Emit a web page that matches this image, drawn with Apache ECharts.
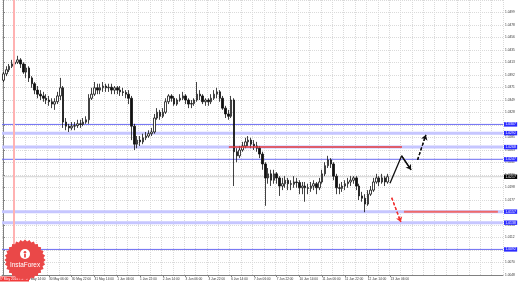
<!DOCTYPE html>
<html><head><meta charset="utf-8">
<script src="https://cdn.jsdelivr.net/npm/echarts@6/dist/echarts.min.js"></script>
<style>html,body{margin:0;padding:0;background:#fff}#c{width:518px;height:285px}</style>
</head><body><div id="c"></div>
<script>
// ---- data ----
const tickLabels = ["29 May 14:00","30 May 06:00","30 May 22:00","31 May 14:00","1 Jun 06:00","1 Jun 22:00","2 Jun 14:00","3 Jun 06:00","3 Jun 22:00","6 Jun 14:00","7 Jun 06:00","7 Jun 22:00","10 Jun 14:00","11 Jun 06:00","11 Jun 22:00","12 Jun 14:00","13 Jun 06:00"];
const labelStep = 8;
const categoryCount = 176;
const categories = Array.from({length: categoryCount}, (_, i) => 'b' + i);
// [open, close, low, high]
const candles = [
[1.0383,1.0394,1.0380,1.0397],[1.0394,1.0401,1.0390,1.0407],[1.0401,1.0407,1.0397,1.0411],[1.0407,1.0411,1.0404,1.0418],
[1.0411,1.0414,1.0407,1.0421],[1.0414,1.0418,1.0411,1.0425],[1.0418,1.0411,1.0404,1.0421],[1.0411,1.0397,1.0394,1.0414],
[1.0397,1.0404,1.0387,1.0411],[1.0404,1.0387,1.0380,1.0407],[1.0387,1.0377,1.0370,1.0390],[1.0377,1.0366,1.0359,1.0380],
[1.0366,1.0359,1.0352,1.0373],[1.0359,1.0356,1.0349,1.0366],[1.0356,1.0352,1.0346,1.0363],[1.0352,1.0349,1.0342,1.0359],
[1.0349,1.0346,1.0339,1.0356],[1.0346,1.0342,1.0335,1.0352],[1.0342,1.0346,1.0332,1.0352],[1.0346,1.0356,1.0342,1.0363],
[1.0356,1.0370,1.0349,1.0387],[1.0370,1.0311,1.0301,1.0373],[1.0311,1.0304,1.0297,1.0318],[1.0304,1.0301,1.0294,1.0308],
[1.0301,1.0304,1.0297,1.0311],[1.0304,1.0305,1.0297,1.0311],[1.0305,1.0308,1.0301,1.0315],[1.0308,1.0307,1.0301,1.0315],
[1.0307,1.0311,1.0304,1.0318],[1.0311,1.0315,1.0308,1.0321],[1.0315,1.0352,1.0308,1.0359],[1.0352,1.0359,1.0349,1.0370],
[1.0359,1.0370,1.0356,1.0380],[1.0370,1.0366,1.0359,1.0377],[1.0366,1.0370,1.0359,1.0377],[1.0370,1.0373,1.0363,1.0380],
[1.0373,1.0370,1.0363,1.0377],[1.0370,1.0371,1.0363,1.0377],[1.0371,1.0366,1.0359,1.0377],[1.0366,1.0370,1.0359,1.0373],
[1.0370,1.0366,1.0359,1.0373],[1.0366,1.0363,1.0356,1.0373],[1.0363,1.0362,1.0356,1.0370],[1.0362,1.0359,1.0352,1.0366],
[1.0359,1.0352,1.0342,1.0366],[1.0352,1.0304,1.0280,1.0356],[1.0304,1.0273,1.0263,1.0308],[1.0273,1.0280,1.0266,1.0287],
[1.0280,1.0277,1.0270,1.0287],[1.0277,1.0284,1.0273,1.0291],[1.0284,1.0287,1.0280,1.0294],[1.0287,1.0291,1.0284,1.0297],
[1.0291,1.0294,1.0287,1.0301],[1.0294,1.0318,1.0291,1.0325],[1.0318,1.0328,1.0315,1.0335],[1.0328,1.0321,1.0315,1.0332],
[1.0321,1.0328,1.0318,1.0335],[1.0328,1.0346,1.0325,1.0352],[1.0346,1.0356,1.0342,1.0359],[1.0356,1.0352,1.0346,1.0359],
[1.0352,1.0342,1.0339,1.0356],[1.0342,1.0349,1.0339,1.0352],[1.0349,1.0352,1.0346,1.0359],[1.0352,1.0356,1.0349,1.0363],
[1.0356,1.0349,1.0342,1.0359],[1.0349,1.0342,1.0335,1.0352],[1.0342,1.0343,1.0335,1.0349],[1.0343,1.0349,1.0339,1.0352],
[1.0349,1.0359,1.0346,1.0380],[1.0359,1.0356,1.0349,1.0366],[1.0356,1.0346,1.0342,1.0359],[1.0346,1.0349,1.0339,1.0352],
[1.0349,1.0346,1.0339,1.0352],[1.0346,1.0352,1.0342,1.0359],[1.0352,1.0359,1.0349,1.0366],[1.0359,1.0363,1.0352,1.0370],
[1.0363,1.0352,1.0346,1.0366],[1.0352,1.0335,1.0332,1.0356],[1.0335,1.0325,1.0318,1.0339],[1.0325,1.0321,1.0315,1.0332],
[1.0321,1.0349,1.0318,1.0356],[1.0349,1.0260,1.0201,1.0352],[1.0260,1.0253,1.0242,1.0266],[1.0253,1.0263,1.0249,1.0270],
[1.0263,1.0270,1.0260,1.0277],[1.0270,1.0277,1.0266,1.0284],[1.0277,1.0280,1.0270,1.0287],[1.0280,1.0273,1.0266,1.0284],
[1.0273,1.0270,1.0263,1.0280],[1.0270,1.0266,1.0260,1.0277],[1.0266,1.0256,1.0249,1.0270],[1.0256,1.0239,1.0229,1.0260],
[1.0239,1.0215,1.0167,1.0242],[1.0215,1.0222,1.0205,1.0232],[1.0222,1.0211,1.0201,1.0229],[1.0211,1.0222,1.0205,1.0229],
[1.0222,1.0215,1.0205,1.0225],[1.0215,1.0201,1.0184,1.0218],[1.0201,1.0205,1.0194,1.0215],[1.0205,1.0211,1.0198,1.0218],
[1.0211,1.0205,1.0194,1.0215],[1.0205,1.0204,1.0194,1.0211],[1.0204,1.0208,1.0198,1.0218],[1.0208,1.0207,1.0198,1.0215],
[1.0207,1.0198,1.0187,1.0211],[1.0198,1.0201,1.0187,1.0208],[1.0201,1.0198,1.0174,1.0208],[1.0198,1.0197,1.0187,1.0205],
[1.0197,1.0201,1.0191,1.0208],[1.0201,1.0205,1.0194,1.0211],[1.0205,1.0198,1.0187,1.0208],[1.0198,1.0208,1.0194,1.0215],
[1.0208,1.0222,1.0205,1.0229],[1.0222,1.0236,1.0218,1.0242],[1.0236,1.0246,1.0232,1.0253],[1.0246,1.0239,1.0232,1.0249],
[1.0239,1.0218,1.0211,1.0242],[1.0218,1.0198,1.0187,1.0222],[1.0198,1.0197,1.0187,1.0205],[1.0197,1.0201,1.0191,1.0208],
[1.0201,1.0205,1.0194,1.0211],[1.0205,1.0208,1.0198,1.0215],[1.0208,1.0211,1.0201,1.0218],[1.0211,1.0215,1.0205,1.0218],
[1.0215,1.0201,1.0194,1.0218],[1.0201,1.0184,1.0177,1.0205],[1.0184,1.0180,1.0174,1.0191],[1.0180,1.0170,1.0156,1.0187],
[1.0170,1.0187,1.0167,1.0194],[1.0187,1.0194,1.0184,1.0201],[1.0194,1.0208,1.0191,1.0215],[1.0208,1.0215,1.0205,1.0222],
[1.0215,1.0208,1.0201,1.0218],[1.0208,1.0215,1.0205,1.0222],[1.0215,1.0208,1.0201,1.0218],[1.0208,1.0217,1.0205,1.0222]
];
const levelsThin = [1.0307, 1.0247, 1.0092];
const levelsThick = [1.0292, 1.0268, 1.0157, 1.0138];
const currentPrice = 1.0217;
const resistanceSeg = [[79.2, 1.0268], [140.0, 1.0268]];
const supportSeg = [[140.7, 1.0157], [173.7, 1.0157]];
const upPathSolid = [[135.8, 1.0206], [139.9, 1.0253], [143.2, 1.0229]];
const upPathDashed = [[145.5, 1.0246], [148.4, 1.0289]];
const downPathDashed = [[136.4, 1.0181], [139.6, 1.0139]];
const separatorIndex = 3.5;
const separatorLabel = '27 May 2016 04:00';
const yMin = 1.0048, yStep = 0.00215, yMax = 1.0521;

// ---- chart ----
const FONT = 'Liberation Sans';
const xLo = -0.5, xHi = categoryCount - 0.5;
const chart = echarts.init(document.getElementById('c'), null, {renderer: 'canvas'});

function levelSeries(v, color, width, boxBg) {
  return {
    type: 'line', xAxisIndex: 1, yAxisIndex: 0, data: [[xLo, v], [xHi, v]], showSymbol: false, symbol: 'none',
    silent: true, z: 1, lineStyle: {color: color, width: width},
    endLabel: {show: true, distance: 1, fontSize: 3.4, fontFamily: FONT, color: '#fff', backgroundColor: boxBg,
      padding: [0.8, 1.4, 0.6, 1.4], formatter: () => v.toFixed(4)}
  };
}
function pathSeries(pts, color, dashed, width) {
  const n = pts.length;
  return {
    type: 'line', xAxisIndex: 1, yAxisIndex: 0, data: pts, showSymbol: false, symbol: 'none', silent: true,
    lineStyle: {color: color, width: width, type: dashed ? [3, 2] : 'solid'}, z: 5,
    markLine: {silent: true, animation: false, symbolSize: 5,
      lineStyle: {color: color, width: width, type: dashed ? [3, 2] : 'solid'}, label: {show: false},
      data: [[{coord: pts[n - 2], symbol: 'none'}, {coord: pts[n - 1], symbol: 'arrow'}]]}
  };
}

// badge (decoration)
const badgePts = [];
for (let k = 0; k < 56; k++) {
  const r = k % 2 ? 18.6 : 20.6, a = k / 56 * 2 * Math.PI;
  badgePts.push([25 + r * Math.cos(a), 260 + r * Math.sin(a)]);
}

const series = [];
levelsThick.forEach(v => series.push(levelSeries(v, '#c6c6ff', 3, '#2b2bff')));
levelsThin.forEach(v => series.push(levelSeries(v, '#6c6cf2', 1, '#2b2bff')));
series.push(levelSeries(currentPrice, '#d2d2d2', 1, '#000000'));
series.push({
  type: 'candlestick', xAxisIndex: 0, yAxisIndex: 0, data: candles, barWidth: 2, z: 3,
  itemStyle: {color: '#ffffff', color0: '#111111', borderColor: '#111111', borderColor0: '#111111', borderWidth: 0.8}
});
series.push({
  type: 'line', xAxisIndex: 1, yAxisIndex: 0, data: resistanceSeg, showSymbol: false, symbol: 'none', silent: true, z: 4,
  lineStyle: {color: '#e63a3a', width: 1.5},
  markLine: {silent: true, animation: false, symbol: 'none',
    data: [{xAxis: separatorIndex, lineStyle: {color: '#ffb2b2', width: 2, type: 'solid'},
      label: {show: true, position: 'start', distance: 1.5, formatter: separatorLabel, fontSize: 3.3, fontFamily: FONT,
        color: '#fff', backgroundColor: '#f23a3a', padding: [1, 1.5, 1, 1.5]}}]}
});
series.push({
  type: 'line', xAxisIndex: 1, yAxisIndex: 0, data: supportSeg, showSymbol: false, symbol: 'none', silent: true, z: 4,
  lineStyle: {color: '#f06a6a', width: 2}
});
series.push(pathSeries(upPathSolid, '#111', false, 1.3));
series.push(pathSeries(upPathDashed, '#111', true, 1.3));
series.push(pathSeries(downPathDashed, '#f03030', true, 1.3));

const labelInterval = (i) => i % labelStep === 0 && i >= labelStep && i / labelStep <= tickLabels.length;

chart.setOption({
  animation: false,
  backgroundColor: '#ffffff',
  grid: {left: 2, right: 15, top: 0, bottom: 10},
  xAxis: [{
    type: 'category', data: categories, boundaryGap: true,
    axisLine: {show: true, lineStyle: {color: '#808080', width: 1}},
    axisTick: {show: true, length: 2, alignWithLabel: true, lineStyle: {color: '#808080'}, interval: labelInterval},
    axisLabel: {fontSize: 3.2, fontFamily: FONT, color: '#333', margin: 2.5, align: 'left',
      interval: labelInterval, formatter: (v, i) => tickLabels[i / labelStep - 1] || ''},
    splitLine: {show: true, interval: 3, lineStyle: {color: '#dadada', type: [1, 1], width: 1}}
  }, {
    type: 'value', min: xLo, max: xHi, show: false
  }],
  yAxis: {
    type: 'value', position: 'right', min: yMin, max: yMax, interval: yStep,
    axisLine: {show: true, lineStyle: {color: '#808080', width: 1}},
    axisTick: {show: true, length: 1.5, lineStyle: {color: '#808080'}},
    axisLabel: {fontSize: 3.2, fontFamily: FONT, color: '#333', margin: 2, showMaxLabel: false,
      formatter: v => v.toFixed(4)},
    splitLine: {show: true, lineStyle: {color: '#dadada', type: [1, 1], width: 1}}
  },
  series: series,
  graphic: [
    {type: 'polygon', shape: {points: badgePts}, style: {fill: '#ea4848'}, z: 50},
    {type: 'circle', shape: {cx: 25, cy: 254, r: 5}, style: {fill: '#ffffff'}, z: 51},
    {type: 'circle', shape: {cx: 25, cy: 252.3, r: 1.3}, style: {fill: '#ea4848'}, z: 52},
    {type: 'rect', shape: {x: 24.1, y: 254, width: 1.8, height: 3.5}, style: {fill: '#ea4848'}, z: 52},
    {type: 'text', x: 25, y: 265.5, style: {text: 'InstaForex', fill: '#ffffff', fontSize: 6.4, fontFamily: FONT,
      align: 'center', verticalAlign: 'middle'}, z: 52}
  ]
});
</script></body></html>
